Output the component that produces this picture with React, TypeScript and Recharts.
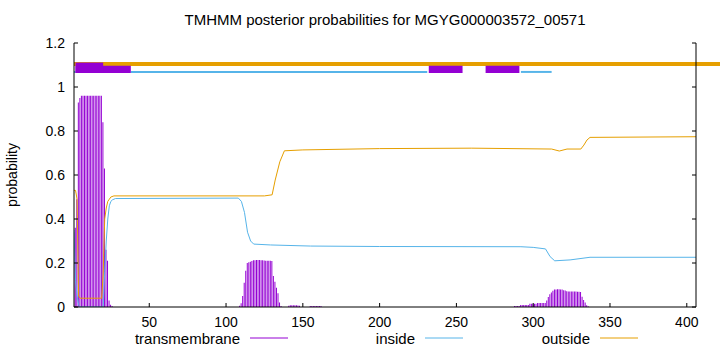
import React from "react";
import { ComposedChart, Bar, Line, XAxis, YAxis, ReferenceArea } from "recharts";

const seqLength = 406;

// transmembrane posterior, per residue, only where it rises above zero
const tmHelix1Start = 1;
const tmHelix1 = [
  0.34, 0.36, 0.49, 0.93, 0.95, 0.96, 0.96, 0.96, 0.96, 0.96, 0.96, 0.96, 0.96,
  0.96, 0.96, 0.96, 0.96, 0.96, 0.96, 0.84, 0.63, 0.26, 0.21, 0.03, 0.01, 0.005,
];
const tmHelix2Start = 109;
const tmHelix2 = [
  0.006, 0.017, 0.05, 0.11, 0.165, 0.2, 0.203, 0.206, 0.209, 0.213, 0.213, 0.214,
  0.214, 0.214, 0.213, 0.213, 0.211, 0.21, 0.21, 0.21, 0.21, 0.209, 0.141, 0.115,
  0.088, 0.062, 0.02, 0.005,
];
const tmNoise1Start = 141;
const tmNoise1 = [0.006, 0.008, 0.008, 0.008, 0.008, 0.008, 0.007, 0.006];
const tmNoise2Start = 155;
const tmNoise2 = [0.005, 0.005, 0.005, 0.005, 0.005, 0.005, 0.005, 0.004];
const tmHelix3Start = 288;
const tmHelix3 = [
  0.004, 0.004, 0.004, 0.004, 0.009, 0.009, 0.009, 0.009, 0.009, 0.009, 0.015,
  0.015, 0.015, 0.015, 0.015, 0.018, 0.018, 0.018, 0.018, 0.018, 0.018, 0.03,
  0.045, 0.058, 0.066, 0.074, 0.08, 0.08, 0.081, 0.081, 0.08, 0.079, 0.076, 0.075,
  0.072, 0.071, 0.071, 0.07, 0.07, 0.07, 0.07, 0.069, 0.069, 0.068, 0.047, 0.032,
  0.02, 0.008, 0.003,
];

// inside / outside curves, read at their bends
const insidePos = [
  1, 2, 3, 4, 5, 20, 21, 22, 23, 24, 25, 26, 28, 108, 110, 112, 114, 116, 118,
  129, 155, 200, 292, 300, 308, 311, 314, 324, 337, 406,
];
const insideProb = [
  0.35, 0.12, 0.05, 0.01, 0, 0, 0.16, 0.3, 0.4, 0.46, 0.48, 0.487, 0.493, 0.495,
  0.48, 0.43, 0.34, 0.3, 0.286, 0.282, 0.277, 0.275, 0.274, 0.271, 0.264, 0.229,
  0.21, 0.214, 0.226, 0.226,
];
const outsidePos = [
  1, 2, 3, 4, 5, 19, 20, 21, 22, 23, 24, 25, 27, 125, 130, 132, 135, 138, 150,
  200, 260, 312, 317, 322, 331, 333, 335, 337, 406,
];
const outsideProb = [
  0.53, 0.53, 0.49, 0.05, 0.04, 0.04, 0.15, 0.4, 0.45, 0.48, 0.49, 0.5, 0.505,
  0.505, 0.51, 0.577, 0.66, 0.71, 0.714, 0.72, 0.722, 0.718, 0.709, 0.718, 0.718,
  0.736, 0.759, 0.771, 0.774,
];

// predicted topology strip above the curves: [from, to]
const topoOutside = [[1, 422]];
const topoInside = [[1, 2], [38, 231], [292, 312]];
const topoHelix = [[2, 38], [232, 254], [269, 291]];
const topoHelixCap = [[2, 20]];

const xTicks = [50, 100, 150, 200, 250, 300, 350, 400];
const yTicks = [0, 0.2, 0.4, 0.6, 0.8, 1, 1.2];

const legendItems = [
  { label: "transmembrane", color: "#9400d3" },
  { label: "inside", color: "#56b4e9" },
  { label: "outside", color: "#e69f00" },
];

type Row = { pos: number; tm: number; inside?: number; outside?: number };

const data: Row[] = [];
for (let pos = 1; pos <= seqLength; pos++) data.push({ pos, tm: 0 });
[
  [tmHelix1Start, tmHelix1],
  [tmHelix2Start, tmHelix2],
  [tmNoise1Start, tmNoise1],
  [tmNoise2Start, tmNoise2],
  [tmHelix3Start, tmHelix3],
].forEach(([start, values]) => {
  (values as number[]).forEach((v, i) => {
    data[(start as number) - 1 + i].tm = v;
  });
});
insidePos.forEach((p, i) => (data[p - 1].inside = insideProb[i]));
outsidePos.forEach((p, i) => (data[p - 1].outside = outsideProb[i]));

const FONT = "'Liberation Sans', Arial, sans-serif";
const TICK = 4;

const BottomTick = ({ x, y, payload }: any) => (
  <g>
    <line x1={x} x2={x} y1={y} y2={y - TICK} stroke="#000" />
    <text x={x} y={y + 20} textAnchor="middle" fontSize={14} fontFamily={FONT} fill="#000">
      {payload.value}
    </text>
  </g>
);

const TopTick = ({ x, y }: any) => (
  <line x1={x} x2={x} y1={y} y2={y + TICK} stroke="#000" />
);

const LeftTick = ({ x, y, payload }: any) => (
  <g>
    <line x1={x} x2={x + TICK} y1={y} y2={y} stroke="#000" />
    <text x={x - 9} y={y + 5} textAnchor="end" fontSize={14} fontFamily={FONT} fill="#000">
      {String(payload.value)}
    </text>
  </g>
);

const RightTick = ({ x, y }: any) => (
  <line x1={x} x2={x - TICK} y1={y} y2={y} stroke="#000" />
);

export default function App() {
  return (
    <div style={{ position: "absolute", left: 0, top: 0, width: 720, height: 352, background: "#fff" }}>
      <ComposedChart
        width={720}
        height={352}
        data={data}
        margin={{ top: 43, right: 0, bottom: 0, left: 0 }}
      >
        <XAxis
          dataKey="pos"
          type="number"
          domain={[1, seqLength]}
          ticks={xTicks}
          height={45}
          tickSize={0}
          tickMargin={0}
          tick={<BottomTick />}
          axisLine={{ stroke: "#000" }}
          allowDataOverflow
        />
        <XAxis
          xAxisId="top"
          orientation="top"
          dataKey="pos"
          type="number"
          domain={[1, seqLength]}
          ticks={xTicks}
          height={0}
          tickSize={0}
          tickMargin={0}
          tick={<TopTick />}
          axisLine={{ stroke: "#000" }}
          allowDataOverflow
        />
        <YAxis
          type="number"
          domain={[0, 1.2]}
          ticks={yTicks}
          width={74}
          tickSize={0}
          tickMargin={0}
          tick={<LeftTick />}
          axisLine={{ stroke: "#000" }}
          allowDataOverflow
        />
        <YAxis
          yAxisId="right"
          orientation="right"
          type="number"
          domain={[0, 1.2]}
          ticks={yTicks}
          width={24}
          tickSize={0}
          tickMargin={0}
          tick={<RightTick />}
          axisLine={{ stroke: "#000" }}
          allowDataOverflow
        />
        {topoOutside.map(([a, b], i) => (
          <ReferenceArea key={`o${i}`} x1={a} x2={b} y1={1.095} y2={1.114} fill="#e69f00" fillOpacity={1} stroke="none" ifOverflow="visible" />
        ))}
        {topoInside.map(([a, b], i) => (
          <ReferenceArea key={`i${i}`} x1={a} x2={b} y1={1.064} y2={1.073} fill="#56b4e9" fillOpacity={1} stroke="none" ifOverflow="visible" />
        ))}
        {topoHelix.map(([a, b], i) => (
          <ReferenceArea key={`h${i}`} x1={a} x2={b} y1={1.064} y2={1.097} fill="#9400d3" fillOpacity={1} stroke="none" ifOverflow="visible" />
        ))}
        {topoHelixCap.map(([a, b], i) => (
          <ReferenceArea key={`c${i}`} x1={a} x2={b} y1={1.064} y2={1.111} fill="#9400d3" fillOpacity={1} stroke="none" ifOverflow="visible" />
        ))}
        <Bar dataKey="tm" fill="#9400d3" barSize={1} isAnimationActive={false} />
        <Line dataKey="inside" type="linear" stroke="#56b4e9" strokeWidth={1} dot={false} connectNulls isAnimationActive={false} />
        <Line dataKey="outside" type="linear" stroke="#e69f00" strokeWidth={1} dot={false} connectNulls isAnimationActive={false} />
      </ComposedChart>
      <svg
        width={720}
        height={352}
        style={{ position: "absolute", left: 0, top: 0, pointerEvents: "none" }}
        fontFamily={FONT}
      >
        <text x={385} y={25} textAnchor="middle" fontSize={15} fill="#000">
          TMHMM posterior probabilities for MGYG000003572_00571
        </text>
        <text x={17} y={175} textAnchor="middle" fontSize={14} fill="#000" transform="rotate(-90 17 175)">
          probability
        </text>
        {legendItems.map((item, i) => {
          const lineEnd = 288 + i * 175;
          return (
            <g key={item.label}>
              <text x={lineEnd - 48} y={344} textAnchor="end" fontSize={15} fill="#000">
                {item.label}
              </text>
              <line x1={lineEnd - 38} x2={lineEnd} y1={338} y2={338} stroke={item.color} strokeWidth={1} />
            </g>
          );
        })}
      </svg>
    </div>
  );
}
